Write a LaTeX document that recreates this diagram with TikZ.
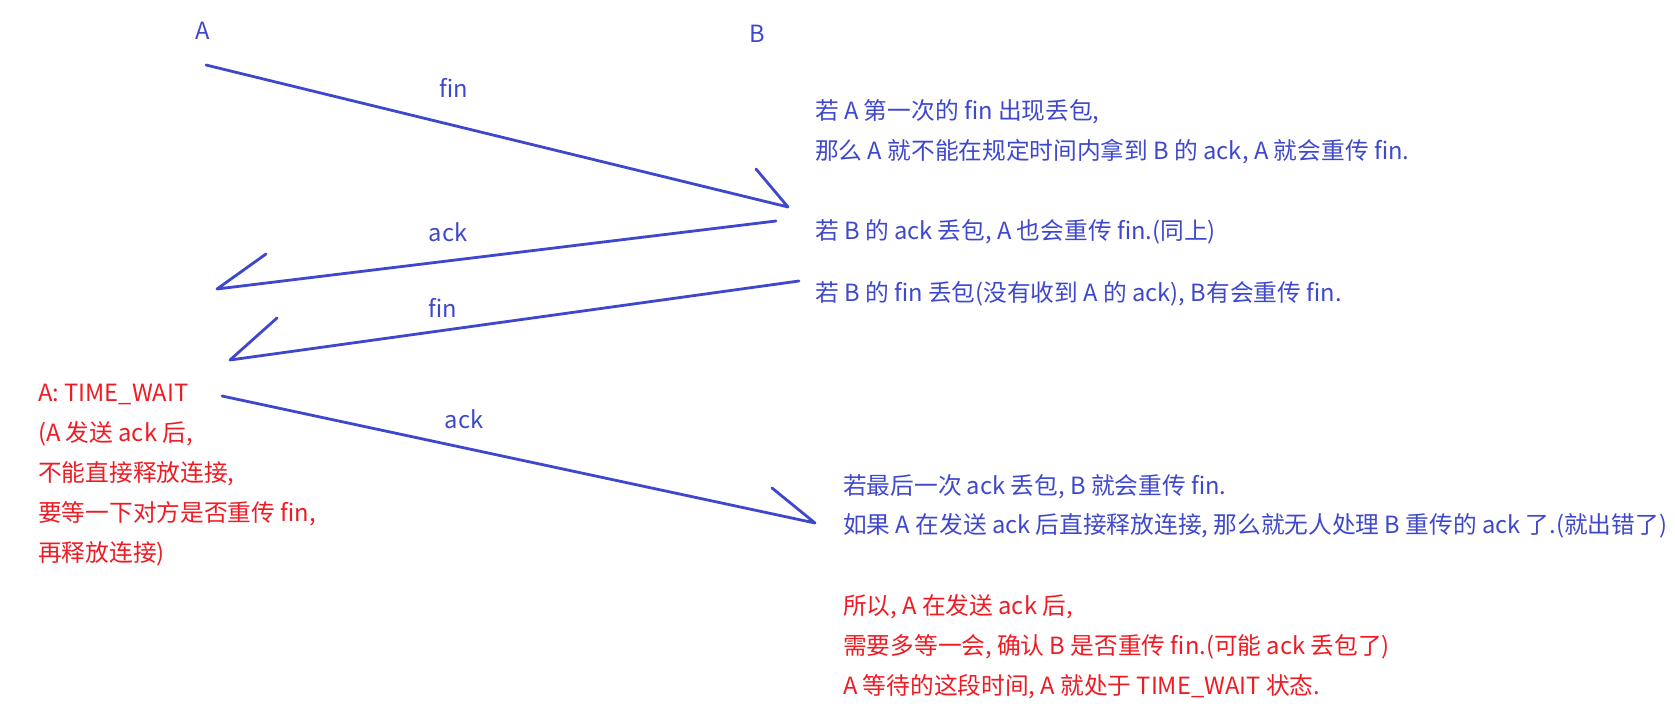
\documentclass[tikz,border=0pt]{standalone}
\usepackage{fontspec}
\setmainfont{Noto Sans CJK SC}
\definecolor{pblue}{RGB}{63,72,204}
\definecolor{pred}{RGB}{237,28,36}
\begin{document}
\begin{tikzpicture}[x=1pt,y=-1pt,
  txt/.style={inner sep=0pt,font=\fontsize{23.7}{23.7}\selectfont},
  btxt/.style={txt,anchor=base west,text=pblue},
  rtxt/.style={txt,anchor=base west,text=pred},
  lbl/.style={txt,anchor=center,text=pblue},
  msg/.style={draw=pblue,line width=2.8pt,line cap=round,line join=round}]
\useasboundingbox (0,0) rectangle (1675,725);
% endpoint labels
\node[txt,anchor=base,text=pblue] (A) at (203,40) {A};
\node[txt,anchor=base,text=pblue] (B) at (757,43) {B};
% connector end points
\coordinate (f1s) at (206,65);  \coordinate (f1e) at (788,207); \coordinate (f1h) at (756,169);
\coordinate (a1s) at (776,221); \coordinate (a1e) at (217,289); \coordinate (a1h) at (266,254);
\coordinate (f2s) at (799,281); \coordinate (f2e) at (230,360); \coordinate (f2h) at (277,318);
\coordinate (a2s) at (222,396); \coordinate (a2e) at (815,523); \coordinate (a2h) at (772,488);
% messages
\draw[msg] (f1s) -- (f1e) -- (f1h);
\draw[msg] (a1s) -- (a1e) -- (a1h);
\draw[msg] (f2s) -- (f2e) -- (f2h);
\draw[msg] (a2s) -- (a2e) -- (a2h);
% message labels
\node[lbl] (lf1) at (454,88) {fin};
\node[lbl] (la1) at (448,232) {ack};
\node[lbl] (lf2) at (443,308) {fin};
\node[lbl] (la2) at (464,419) {ack};
% left red notes
\node[rtxt] (r1) at (38,401) {A: TIME\_WAIT};
\node[rtxt] (r2) at (38,441) {(A 发送 ack 后,};
\node[rtxt] (r3) at (38,481) {不能直接释放连接,};
\node[rtxt] (r4) at (38,521) {要等一下对方是否重传 fin,};
\node[rtxt] (r5) at (38,561) {再释放连接)};
% right blue notes
\node[btxt] (b1) at (815,119) {若 A 第一次的 fin 出现丢包,};
\node[btxt] (b2) at (815,159) {那么 A 就不能在规定时间内拿到 B 的 ack, A 就会重传 fin.};
\node[btxt] (b3) at (815,239) {若 B 的 ack 丢包, A 也会重传 fin.(同上)};
\node[btxt] (b4) at (815,301) {若 B 的 fin 丢包(没有收到 A 的 ack), B有会重传 fin.};
\node[btxt] (b5) at (843,494) {若最后一次 ack 丢包, B 就会重传 fin.};
\node[btxt] (b6) at (843,533) {如果 A 在发送 ack 后直接释放连接, 那么就无人处理 B 重传的 ack 了.(就出错了)};
% right red notes
\node[rtxt] (c1) at (843,614) {所以, A 在发送 ack 后,};
\node[rtxt] (c2) at (843,654) {需要多等一会, 确认 B 是否重传 fin.(可能 ack 丢包了)};
\node[rtxt] (c3) at (843,694) {A 等待的这段时间, A 就处于 TIME\_WAIT 状态.};
\end{tikzpicture}
\end{document}
